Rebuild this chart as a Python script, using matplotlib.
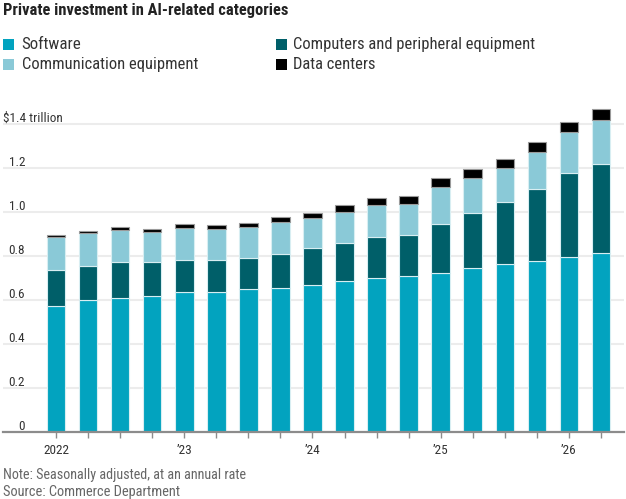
import matplotlib
matplotlib.use("Agg")
import matplotlib.pyplot as plt
from matplotlib import font_manager
from matplotlib.patches import Rectangle
from matplotlib.transforms import blended_transform_factory, Affine2D
import numpy as np

# ---------------- data ----------------
quarters = ["2022Q1", "2022Q2", "2022Q3", "2022Q4",
            "2023Q1", "2023Q2", "2023Q3", "2023Q4",
            "2024Q1", "2024Q2", "2024Q3", "2024Q4",
            "2025Q1", "2025Q2", "2025Q3", "2025Q4",
            "2026Q1", "2026Q2"]
software = [0.574, 0.598, 0.610, 0.619, 0.638, 0.638, 0.648, 0.656, 0.668,
            0.686, 0.700, 0.709, 0.724, 0.745, 0.765, 0.779, 0.797, 0.815]
computers = [0.162, 0.158, 0.163, 0.154, 0.144, 0.144, 0.143, 0.153, 0.170,
             0.173, 0.188, 0.187, 0.222, 0.251, 0.281, 0.326, 0.382, 0.404]
communication = [0.152, 0.147, 0.147, 0.138, 0.147, 0.142, 0.143, 0.146, 0.135,
                 0.141, 0.146, 0.142, 0.168, 0.158, 0.155, 0.170, 0.186, 0.199]
data_centers = [0.006, 0.009, 0.012, 0.012, 0.017, 0.017, 0.016, 0.023, 0.023,
                0.032, 0.030, 0.034, 0.040, 0.041, 0.039, 0.043, 0.044, 0.050]
series_names = ["Software", "Computers and peripheral equipment",
                "Communication equipment", "Data centers"]
y_ticks = [0, 0.2, 0.4, 0.6, 0.8, 1.0, 1.2, 1.4]
y_tick_labels = ["0", "0.2", "0.4", "0.6", "0.8", "1.0", "1.2", "$1.4 trillion"]
x_tick_labels = {"2022Q1": "2022", "2023Q1": "\u201923", "2024Q1": "\u201924",
                 "2025Q1": "\u201925", "2026Q1": "\u201926"}

colors = {"Software": "#02a3bf",
          "Computers and peripheral equipment": "#005f69",
          "Communication equipment": "#8ac9d7",
          "Data centers": "#000000"}

# ---------------- fonts ----------------
avail = {f.name for f in font_manager.fontManager.ttflist}
fam = None
for cand in ["Liberation Sans Narrow", "Roboto Condensed", "Roboto", "Lato", "DejaVu Sans"]:
    if cand in avail:
        fam = cand
        break
plt.rcParams["font.family"] = [fam, "DejaVu Sans"]

W, H = 626, 499
fig = plt.figure(figsize=(W / 100, H / 100), dpi=100)
fig.patch.set_facecolor("white")

# axes placement in pixels
ax_left, ax_right = 3, 624
base_y, top_y = 431.7, 100.0
px_per_unit = 219.6
x0_px, x_step = 56.0, 32.06
ax = fig.add_axes([ax_left / W, (H - base_y) / H, (ax_right - ax_left) / W, (base_y - top_y) / H])
ax.set_xlim((ax_left - x0_px) / x_step, (ax_right - x0_px) / x_step)
ax.set_ylim(0, (base_y - top_y) / px_per_unit)

x = np.arange(len(quarters))
bottom = np.zeros(len(quarters))
vals = {"Software": software,
        "Computers and peripheral equipment": computers,
        "Communication equipment": communication,
        "Data centers": data_centers}
for name in series_names:
    v = np.array(vals[name])
    ec = "#9a9a9a" if name == "Data centers" else "#d8eef2"
    ax.bar(x, v, bottom=bottom, width=0.58, color=colors[name],
           edgecolor=ec, linewidth=0.8, zorder=3)
    bottom += v

# grid
for yt in y_ticks[1:]:
    ax.axhline(yt, color="#ececec", lw=1.5, zorder=1)

for s in ["top", "right", "left"]:
    ax.spines[s].set_visible(False)
ax.spines["bottom"].set_color("#8c8c8c")
ax.spines["bottom"].set_linewidth(1.6)
ax.spines["bottom"].set_zorder(4)
ax.set_yticks([])

ax.set_xticks(x, minor=True)
major_idx = [quarters.index(q) for q in x_tick_labels]
ax.set_xticks(major_idx)
ax.set_xticklabels([x_tick_labels[quarters[i]] for i in major_idx],
                   fontsize=9.5, color="#333333")
ax.tick_params(axis="x", which="both", length=4, width=1, color="#8c8c8c", pad=5)
ax.tick_params(axis="x", which="minor", labelbottom=False)

# y tick labels inside plot
trans = blended_transform_factory(fig.dpi_scale_trans + Affine2D(), ax.transData)
pxtrans = blended_transform_factory(Affine2D().scale(1.0), ax.transData)
for yt, lab in zip(y_ticks, y_tick_labels):
    if lab.startswith("$"):
        t = ax.text(3, yt, lab, transform=pxtrans, ha="left", va="baseline",
                    fontsize=9.5, color="#333333")
    else:
        t = ax.text(25, yt, lab, transform=pxtrans, ha="right", va="baseline",
                    fontsize=9.5, color="#333333")
    t.set_transform(pxtrans + Affine2D().translate(0, 2))

renderer = fig.canvas.get_renderer()


def fig_text_fit(xpx, ypx, s, target_w, base_fs, **kw):
    t = fig.text(xpx / W, 1 - ypx / H, s, fontsize=base_fs, **kw)
    w = t.get_window_extent(renderer).width
    if w > 0:
        t.set_fontsize(base_fs * target_w / w)
    return t


# title
fig_text_fit(3, 15, "Private investment in AI-related categories", 286, 10.5,
             fontweight="bold", color="#222222", ha="left", va="baseline")

# legend
legend_items = [("Software", 3, 39, 21.7, 60),
                ("Communication equipment", 3, 59, 21.7, 176),
                ("Computers and peripheral equipment", 276, 39, 293, 243),
                ("Data centers", 276, 59, 293, 83)]
for name, sx, sy, tx, tw in legend_items:
    fig.patches.append(Rectangle((sx / W, 1 - (sy + 11) / H), 11 / W, 11 / H,
                                 transform=fig.transFigure, facecolor=colors[name],
                                 edgecolor="none"))
    fig_text_fit(tx, sy + 10, name, tw, 10.5, color="#333333", ha="left", va="baseline")

# footer
fig_text_fit(3, 479, "Note: Seasonally adjusted, at an annual rate", 244, 9.5,
             color="#666666", ha="left", va="baseline")
fig_text_fit(3, 496, "Source: Commerce Department", 177, 9.5,
             color="#666666", ha="left", va="baseline")

fig.savefig("out.png", dpi=100, facecolor="white")
